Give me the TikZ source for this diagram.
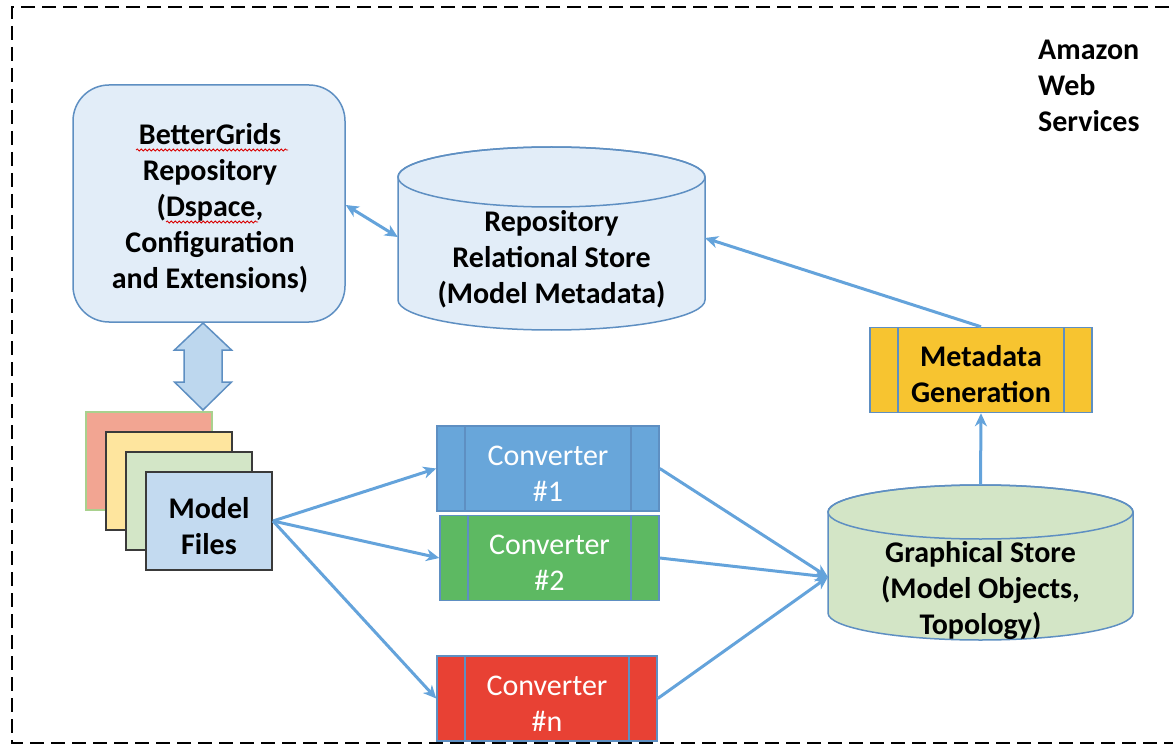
\documentclass[tikz,border=0pt]{standalone}
\usepackage{fontspec}
\setmainfont{Carlito}
\usetikzlibrary{arrows.meta,decorations.pathmorphing,calc}
\definecolor{lblue}{HTML}{E2EDF8}
\definecolor{sblue}{HTML}{5E8FC2}
\definecolor{ablue}{HTML}{64A3DB}
\definecolor{bafill}{HTML}{BDD7EE}
\definecolor{mfblue}{HTML}{C3DAF0}
\definecolor{gfill}{HTML}{D3E5C6}
\definecolor{c1fill}{HTML}{68A6DA}
\definecolor{c2fill}{HTML}{5DB962}
\definecolor{cnfill}{HTML}{E84134}
\definecolor{mdfill}{HTML}{F7C430}
\definecolor{rfile}{HTML}{F2A592}
\definecolor{rborder}{HTML}{A9D18E}
\definecolor{yfile}{HTML}{FEE59E}
\definecolor{gfile}{HTML}{D3E6C7}
\definecolor{fborder}{HTML}{3A3A3A}
\tikzset{
  txt/.style={font=\fontsize{30}{36}\selectfont\bfseries, align=center, inner sep=0pt},
  wtxt/.style={font=\fontsize{30}{36}\selectfont, align=center, inner sep=0pt, text=white},
  conn/.style={draw=ablue, line width=3pt, -{Stealth[length=13pt,width=12pt,inset=4pt]}},
  procbox/.style={draw=sblue, line width=1.5pt, minimum width=222pt, minimum height=85pt, inner sep=0pt,
    path picture={\draw[sblue, line width=1.5pt]
      ([xshift=28pt]path picture bounding box.north west) -- ([xshift=28pt]path picture bounding box.south west)
      ([xshift=-28pt]path picture bounding box.north east) -- ([xshift=-28pt]path picture bounding box.south east);}},
  filebox/.style={draw=fborder, line width=2pt, minimum width=126pt, minimum height=98pt, inner sep=0pt},
  squiggle/.style={draw=red!85!black, line width=0.8pt, decorate, decoration={snake, segment length=4pt, amplitude=1pt}},
}
\begin{document}
\begin{tikzpicture}[x=1pt,y=-1pt]
\useasboundingbox (0,0) rectangle (1173,746);
% outer dashed frame
\draw[line width=2.8pt, dash pattern=on 14pt off 7pt] (1190,7) -- (12,7) -- (12,743) -- (1190,743);

\node[txt, anchor=base west, align=left] (aws) at (1038,132) {Amazon\\Web\\Services};

% BetterGrids repository
\node[draw=sblue, fill=lblue, line width=1.5pt, rounded corners=36pt,
  minimum width=272pt, minimum height=237pt] (bg) at (209,203.5) {};
\node[txt] (bgtxt) at (210,208) {BetterGrids\\Repository\\(Dspace,\\Configuration\\and Extensions)};
\draw[squiggle] (136,150) -- (288,150);
\draw[squiggle] (166,222) -- (258,222);

% Repository relational store (cylinder)
\filldraw[fill=lblue, draw=sblue, line width=1.5pt]
  (398,177) -- (398,300) arc[start angle=180, end angle=360, x radius=153.5pt, y radius=30pt]
  -- (705,177) arc[start angle=0, end angle=180, x radius=153.5pt, y radius=30pt] -- cycle;
\draw[sblue, line width=1.5pt] (551.5,177) ellipse[x radius=153.5pt, y radius=30pt];
\node[minimum width=307pt, minimum height=183pt, inner sep=0pt] (repo) at (551.5,238.5) {};
\node[txt] (repotxt) at (551.5,259) {Repository\\Relational Store\\(Model Metadata)};
\coordinate (repoin) at (705,238);

% Graphical store (cylinder)
\filldraw[fill=gfill, draw=sblue, line width=1.5pt]
  (828,512) -- (828,613) arc[start angle=180, end angle=360, x radius=152.5pt, y radius=27pt]
  -- (1133,512) arc[start angle=0, end angle=180, x radius=152.5pt, y radius=27pt] -- cycle;
\draw[sblue, line width=1.5pt] (980.5,512) ellipse[x radius=152.5pt, y radius=27pt];
\node[minimum width=305pt, minimum height=155pt, inner sep=0pt] (gs) at (980.5,562.5) {};
\node[txt] (gstxt) at (980.5,591) {Graphical Store\\(Model Objects,\\Topology)};
\coordinate (gsin) at (828,577);

% Metadata generation
\node[procbox, fill=mdfill] (md) at (981,370) {};
\node[txt] (mdtxt) at (981,374) {Metadata\\Generation};

% Converters
\node[procbox, fill=c1fill] (c1) at (548,468.5) {};
\node[wtxt] (c1txt) at (548,474) {Converter\\\#1};
\node[procbox, fill=c2fill, minimum width=219pt] (c2) at (549.5,558) {};
\node[wtxt] (c2txt) at (549.5,563) {Converter\\\#2};
\node[procbox, fill=cnfill, minimum width=220pt] (cn) at (547,698.5) {};
\node[wtxt] (cntxt) at (547,704) {Converter\\\#n};

% Model files stack
\node[filebox, fill=rfile, draw=rborder] (f1) at (149,461) {};
\node[filebox, fill=yfile] (f2) at (169,481) {};
\node[filebox, fill=gfile] (f3) at (189,501) {};
\node[filebox, fill=mfblue] (mf) at (209,521) {};
\node[txt] (mftxt) at (209,526) {Model\\Files};

% block double arrow between repository and model files
\coordinate (da1) at (203,323);
\coordinate (da2) at (203,410);
\filldraw[fill=bafill, draw=sblue, line width=1.5pt]
  (da1) -- ++(28.5,27) -- ++(-9.5,0) -- ++(0,32) -- ++(9.5,0) -- (da2)
  -- ++(-28.5,-28) -- ++(9.5,0) -- ++(0,-32) -- ++(-9.5,0) -- cycle;

% connectors
\draw[conn, {Stealth[length=13pt,width=12pt,inset=4pt]}-{Stealth[length=13pt,width=12pt,inset=4pt]}] (bg.east |- 0,205) -- (repo.west |- 0,237);
\draw[conn] (mf.east) -- (c1.west);
\draw[conn] (mf.east) -- (c2.west);
\draw[conn] (mf.east) -- (cn.west);
\draw[conn] (c1.east) -- (gsin);
\draw[conn] (c2.east) -- (gsin);
\draw[conn] (cn.east) -- (gsin);
\draw[conn] (gs.north) -- (md.south);
\draw[conn] (md.north) -- (repoin);
\end{tikzpicture}
\end{document}
